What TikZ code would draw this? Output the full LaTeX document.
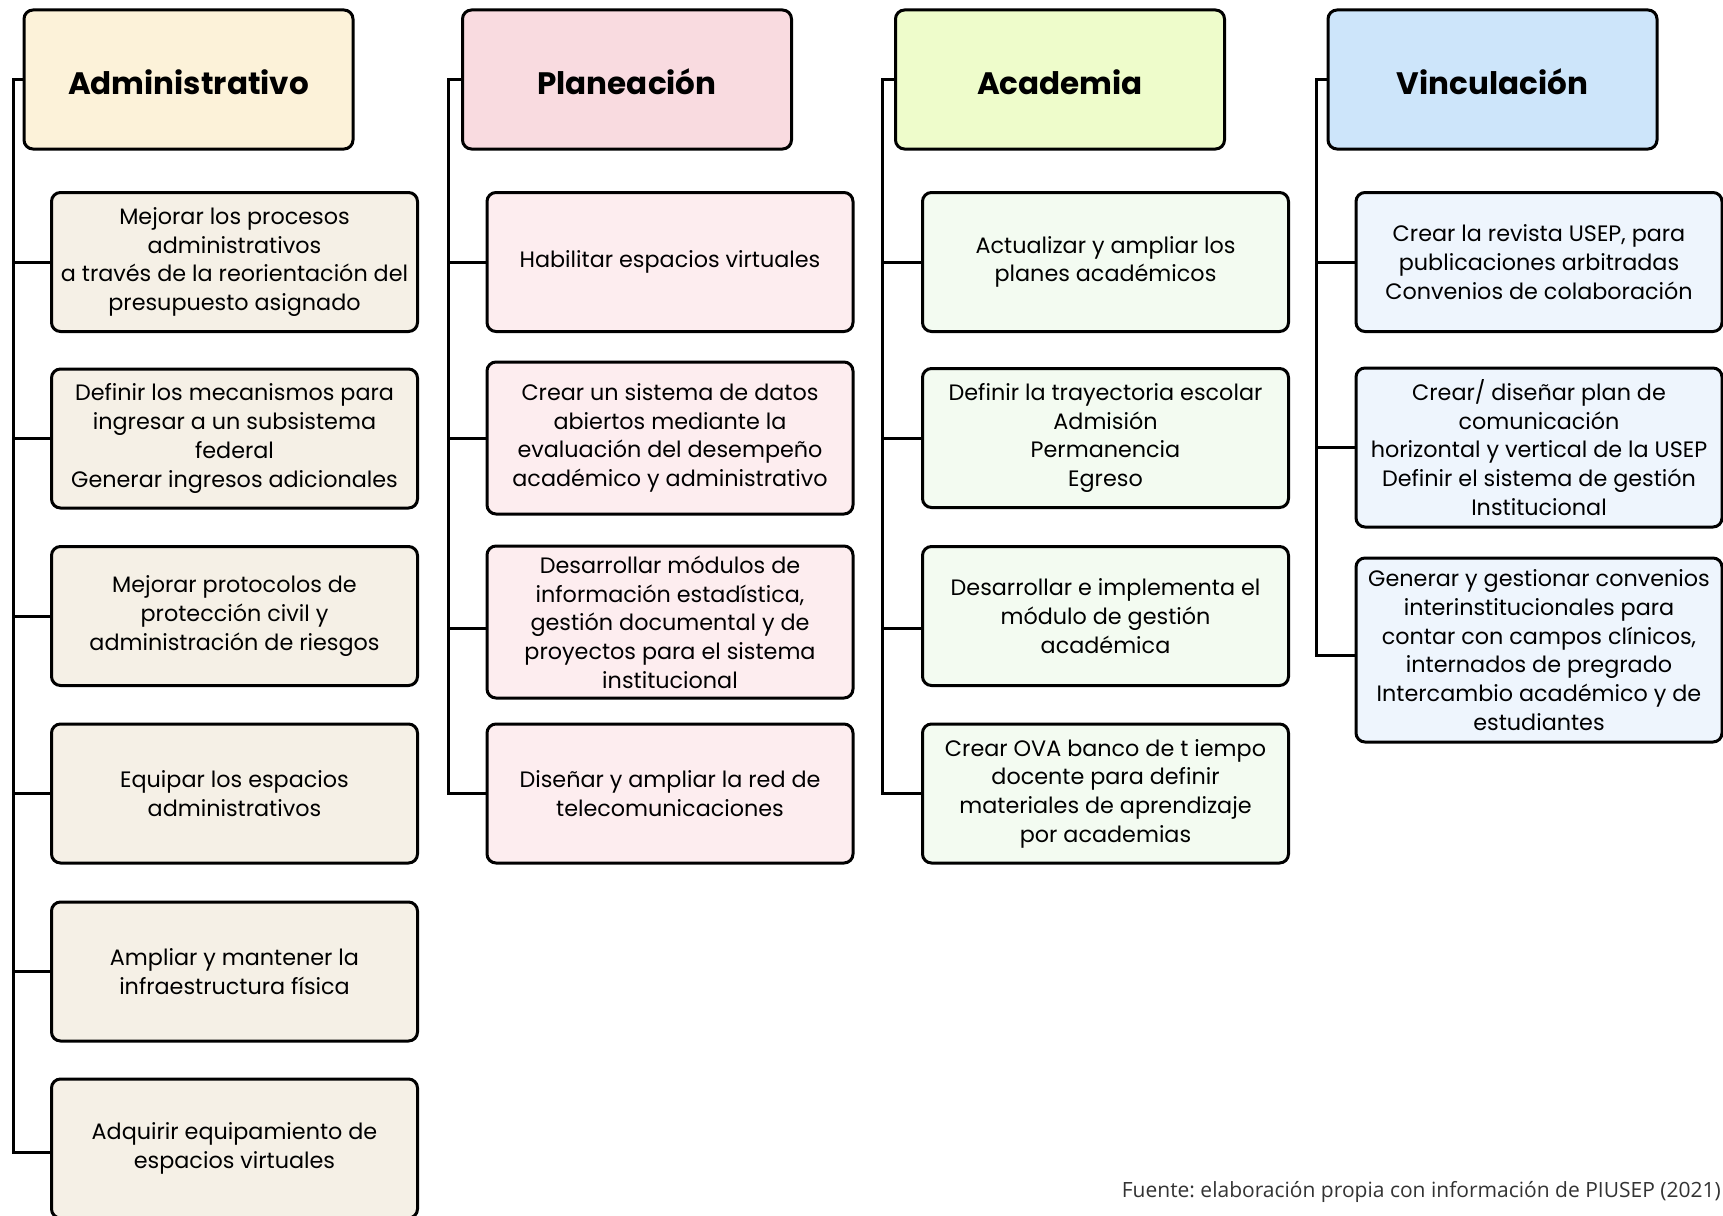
\documentclass[tikz,border=0pt]{standalone}
\usepackage{fontspec}
\setmainfont{Poppins}
\newfontfamily\footfont{Open Sans}
\frenchspacing
\definecolor{hdrA}{HTML}{FCF2D9}
\definecolor{itmA}{HTML}{F5F0E6}
\definecolor{hdrB}{HTML}{F9DBE0}
\definecolor{itmB}{HTML}{FDEDEF}
\definecolor{hdrC}{HTML}{EEFCCB}
\definecolor{itmC}{HTML}{F3FBF1}
\definecolor{hdrD}{HTML}{CDE5FA}
\definecolor{itmD}{HTML}{EEF5FD}
\definecolor{foot}{HTML}{333333}
\begin{document}
\begin{tikzpicture}[x=1pt,y=-1pt,
  box/.style={draw=black, line width=3pt, rounded corners=9pt, align=center,
    minimum height=139pt, inner sep=0pt, text=black},
  head/.style={box, minimum width=329pt, text height=29pt, text depth=0pt,
    font=\fontsize{31}{36}\selectfont\bfseries},
  item/.style={box, minimum width=366pt, font=\fontsize{22.3}{28.7}\selectfont},
  link/.style={line width=3pt, draw=black, line join=miter}]
\useasboundingbox (0,0) rectangle (1723,1215);
\clip (0,0) rectangle (1723,1215);

% headers
\node[head, fill=hdrA] (hA) at (188.5,79.5) {Administrativo};
\node[head, fill=hdrB] (hB) at (627,79.5) {Planeación};
\node[head, fill=hdrC] (hC) at (1060,79.5) {Academia};
\node[head, fill=hdrD] (hD) at (1492.5,79.5) {Vinculación};

% column A
\node[item, fill=itmA] (a1) at (234.5,262) {Mejorar los procesos\\administrativos\\a través de la reorientación del\\presupuesto asignado};
\node[item, fill=itmA] (a2) at (234.5,438.5) {Definir los mecanismos para\\ingresar a un subsistema\\federal\\Generar ingresos adicionales};
\node[item, fill=itmA] (a3) at (234.5,616) {Mejorar protocolos de\\protección civil y\\administración de riesgos};
\node[item, fill=itmA] (a4) at (234.5,793.5) {Equipar los espacios\\administrativos};
\node[item, fill=itmA] (a5) at (234.5,971.5) {Ampliar y mantener la\\infraestructura física};
\node[item, fill=itmA] (a6) at (234.5,1148.5) {Adquirir equipamiento de\\espacios virtuales};

% column B
\node[item, fill=itmB] (b1) at (670,262) {Habilitar espacios virtuales};
\node[item, fill=itmB, minimum height=152pt] (b2) at (670,438) {Crear un sistema de datos\\abiertos mediante la\\evaluación del desempeño\\académico y administrativo};
\node[item, fill=itmB, minimum height=152pt] (b3) at (670,622) {Desarrollar módulos de\\información estadística,\\gestión documental y de\\proyectos para el sistema\\institucional};
\node[item, fill=itmB] (b4) at (670,793.5) {Diseñar y ampliar la red de\\telecomunicaciones};

% column C
\node[item, fill=itmC] (c1) at (1105.5,262) {Actualizar y ampliar los\\planes académicos};
\node[item, fill=itmC] (c2) at (1105.5,438) {Definir la trayectoria escolar\\Admisión\\Permanencia\\Egreso};
\node[item, fill=itmC] (c3) at (1105.5,616) {Desarrollar e implementa el\\módulo de gestión\\académica};
\node[item, fill=itmC] (c4) at (1105.5,793.5) {Crear OVA banco de t iempo\\docente para definir\\materiales de aprendizaje\\por academias};

% column D
\node[item, fill=itmD] (d1) at (1539,262) {Crear la revista USEP, para\\publicaciones arbitradas\\Convenios de colaboración};
\node[item, fill=itmD, minimum height=159pt] (d2) at (1539,447.5) {Crear/ diseñar plan de\\comunicación\\horizontal y vertical de la USEP\\Definir el sistema de gestión\\Institucional};
\node[item, fill=itmD, minimum height=184pt] (d3) at (1539,650) {Generar y gestionar convenios\\interinstitucionales para\\contar con campos clínicos,\\internados de pregrado\\Intercambio académico y de\\estudiantes};

% trunks
\coordinate (tA) at (13.5,0);
\coordinate (tB) at (448,0);
\coordinate (tC) at (882.5,0);
\coordinate (tD) at (1316.5,0);

% connectors A
\draw[link] (hA.west) -- (hA.west -| tA) -- ([yshift=-3.5pt]a6.west -| tA) -- ([yshift=-3.5pt]a6.west);
\foreach \n in {a1,a2,a3,a4,a5} \draw[link] (\n.west) -- (\n.west -| tA);
% connectors B
\draw[link] (hB.west) -- (hB.west -| tB) -- (b4.west -| tB) -- (b4.west);
\draw[link] (b1.west) -- (b1.west -| tB);
\draw[link] (b2.west) -- (b2.west -| tB);
\draw[link] ([yshift=-6pt]b3.west) -- ([yshift=-6pt]b3.west -| tB);
% connectors C
\draw[link] (hC.west) -- (hC.west -| tC) -- (c4.west -| tC) -- (c4.west);
\draw[link] (c1.west) -- (c1.west -| tC);
\draw[link] (c2.west) -- (c2.west -| tC);
\draw[link] ([yshift=-12pt]c3.west) -- ([yshift=-12pt]c3.west -| tC);
% connectors D
\draw[link] (hD.west) -- (hD.west -| tD) -- ([yshift=-5pt]d3.west -| tD) -- ([yshift=-5pt]d3.west);
\draw[link] (d1.west) -- (d1.west -| tD);
\draw[link] (d2.west) -- (d2.west -| tD);

% source
\node[anchor=base east, inner sep=0pt, text=foot, font=\footfont\fontsize{21}{24}\selectfont] (src) at (1721,1197) {Fuente: elaboración propia con información de PIUSEP (2021)};
\end{tikzpicture}
\end{document}
